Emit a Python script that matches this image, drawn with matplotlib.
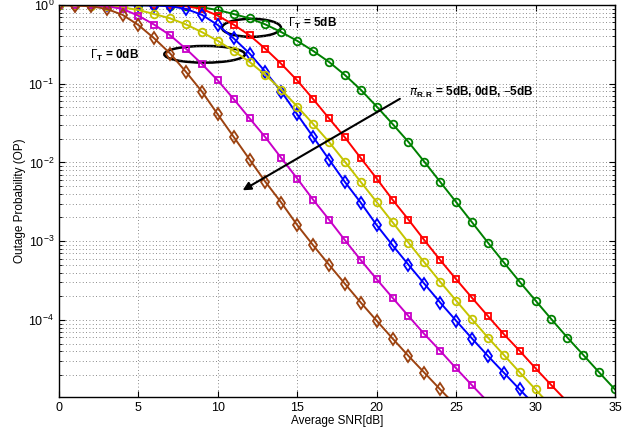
import matplotlib
matplotlib.use('Agg')
import matplotlib.pyplot as plt
from matplotlib.patches import Ellipse
from matplotlib.ticker import LogLocator, NullFormatter
import numpy as np

plt.rcParams['font.family'] = ['Liberation Sans', 'DejaVu Sans']
plt.rcParams['mathtext.fontset'] = 'custom'
plt.rcParams['mathtext.rm'] = 'Liberation Sans'
plt.rcParams['mathtext.bf'] = 'Liberation Sans:bold'

# ── Outage probability (one value per dB) ───────────────────────────────────
snr_green = list(range(0, 36))
op_green = [1.0, 1.0, 1.0, 1.0, 1.0, 0.9954, 0.991, 0.984, 0.971, 0.933,
            0.863, 0.767, 0.676, 0.566, 0.452, 0.350, 0.261, 0.189, 0.129, 0.0838,
            0.0513, 0.0308, 0.0182, 0.0102, 5.65e-3, 3.14e-3, 1.74e-3, 9.6e-4, 5.38e-4, 3.05e-4,
            1.76e-4, 1.02e-4, 5.98e-5, 3.60e-5, 2.16e-5, 1.31e-5]

snr_red = list(range(0, 33))
op_red = [1.0, 1.0, 1.0, 1.0, 1.0, 1.0, 0.993, 0.986, 0.966, 0.891,
          0.730, 0.562, 0.412, 0.277, 0.178, 0.110, 0.0638, 0.0363, 0.0208, 0.01135,
          6.24e-3, 3.36e-3, 1.88e-3, 1.03e-3, 5.75e-4, 3.29e-4, 1.91e-4, 1.12e-4, 6.61e-5, 4.05e-5,
          2.43e-5, 1.48e-5, 9.1e-6]

snr_blue = list(range(0, 31))
op_blue = [1.0, 1.0, 1.0, 1.0, 0.995, 0.991, 0.984, 0.966, 0.891, 0.750,
           0.556, 0.376, 0.242, 0.141, 0.0794, 0.0407, 0.0211, 0.0109, 5.65e-3, 3.08e-3,
           1.60e-3, 8.87e-4, 5.02e-4, 2.88e-4, 1.66e-4, 9.77e-5, 5.81e-5, 3.49e-5, 2.14e-5, 1.31e-5,
           8.1e-6]

snr_yellow = list(range(0, 32))
op_yellow = [0.9954, 0.991, 0.984, 0.971, 0.933, 0.863, 0.767, 0.676, 0.566, 0.452,
             0.350, 0.261, 0.189, 0.129, 0.0838, 0.0513, 0.0308, 0.0182, 0.0102, 5.65e-3,
             3.14e-3, 1.74e-3, 9.6e-4, 5.38e-4, 3.05e-4, 1.76e-4, 1.02e-4, 5.98e-5, 3.60e-5, 2.16e-5,
             1.31e-5, 7.9e-6]

snr_magenta = list(range(0, 28))
op_magenta = [1.0, 0.993, 0.986, 0.966, 0.891, 0.730, 0.562, 0.412, 0.277, 0.178,
              0.110, 0.0638, 0.0363, 0.0208, 0.01135, 6.24e-3, 3.36e-3, 1.88e-3, 1.03e-3, 5.75e-4,
              3.29e-4, 1.91e-4, 1.12e-4, 6.61e-5, 4.05e-5, 2.43e-5, 1.48e-5, 9.1e-6]

snr_brown = list(range(0, 26))
op_brown = [0.991, 0.984, 0.966, 0.891, 0.750, 0.556, 0.376, 0.242, 0.141, 0.0794,
            0.0407, 0.0211, 0.0109, 5.65e-3, 3.08e-3, 1.60e-3, 8.87e-4, 5.02e-4, 2.88e-4, 1.66e-4,
            9.77e-5, 5.81e-5, 3.49e-5, 2.14e-5, 1.31e-5, 8.1e-6]

series = [
    (snr_green, op_green, '#008000', 'o', 5.5),
    (snr_red, op_red, '#ff0000', 's', 4.5),
    (snr_blue, op_blue, '#0000ff', 'd', 6.5),
    (snr_yellow, op_yellow, '#c4c400', 'o', 5.5),
    (snr_magenta, op_magenta, '#c800c8', 's', 4.5),
    (snr_brown, op_brown, '#9c4210', 'd', 6.5),
]

fig = plt.figure(figsize=(6.39, 4.38), dpi=100, facecolor='white')
ax = fig.add_axes([0.0923, 0.0936, 0.8701, 0.895])

for x, y, c, m, ms in series:
    ax.semilogy(x, y, color=c, marker=m, markersize=ms, markerfacecolor='none',
                markeredgewidth=1.3, linewidth=1.4, clip_on=True)

ax.set_xlim(0, 35)
ax.set_ylim(1.05e-5, 1)
ax.set_xticks(range(0, 36, 5))
ax.yaxis.set_major_locator(LogLocator(base=10, numticks=10))
ax.yaxis.set_minor_locator(LogLocator(base=10, subs=np.arange(2, 10), numticks=20))
ax.yaxis.set_minor_formatter(NullFormatter())

grid_style = dict(linestyle=(0, (1, 3)), color='#666666', linewidth=0.6)
ax.grid(True, which='major', **grid_style)
ax.grid(True, which='minor', axis='y', **grid_style)
ax.tick_params(which='both', direction='in', top=True, right=True, labelsize=9)
ax.tick_params(which='major', length=4)
ax.tick_params(which='minor', length=2.5)
for s in ax.spines.values():
    s.set_linewidth(1.0)

ax.set_xlabel('Average SNR[dB]', fontsize=8.5, labelpad=1)
ax.set_ylabel('Outage Probability (OP)', fontsize=8.5, labelpad=2)

# annotations
ax.add_patch(Ellipse((0.3462, 0.9418), 0.1061, 0.0459, transform=ax.transAxes,
                     fill=False, edgecolor='black', linewidth=1.8, clip_on=False))
ax.add_patch(Ellipse((0.2620, 0.8742), 0.1451, 0.0426, transform=ax.transAxes,
                     fill=False, edgecolor='black', linewidth=1.8, clip_on=False))
ax.text(14.39, 0.589, r'$\Gamma_{\mathbf{T}}$ = 5dB', fontsize=8.5, fontweight='bold',
        ha='left', va='center')
ax.text(1.95, 0.23, r'$\Gamma_{\mathbf{T}}$ = 0dB', fontsize=8.5, fontweight='bold',
        ha='left', va='center')
ax.text(22.05, 0.078, r'$\pi_{\mathbf{R.R}}$ = 5dB, 0dB, $-$5dB', fontsize=8.5,
        fontweight='bold', ha='left', va='center')
ax.annotate('', xy=(11.56, 4.43e-3), xytext=(21.46, 0.0643),
            arrowprops=dict(arrowstyle='-|>', color='black', linewidth=1.5,
                            mutation_scale=12, shrinkA=0, shrinkB=0))

plt.savefig('out.png', dpi=100, facecolor='white')
